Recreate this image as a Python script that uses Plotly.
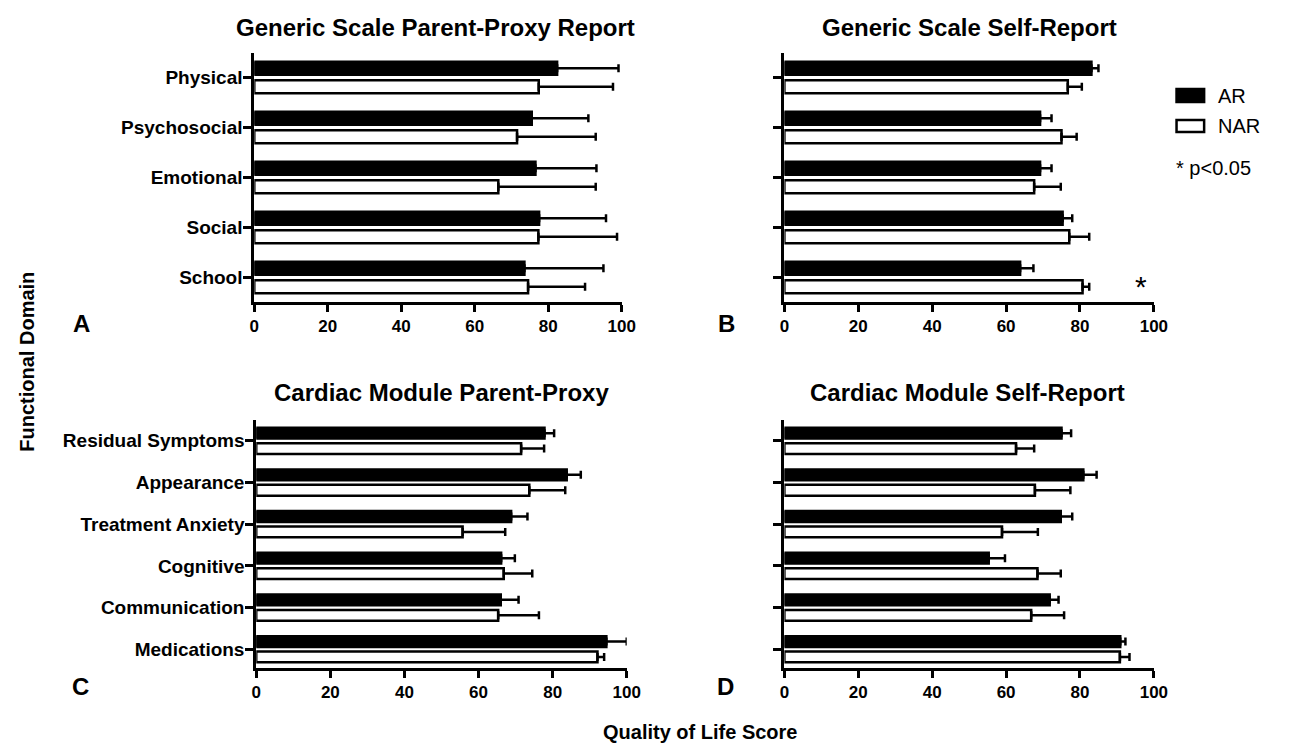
import plotly.graph_objects as go

# ---------------- data ----------------
cats_generic = ["Physical", "Psychosocial", "Emotional", "Social", "School"]
cats_cardiac = ["Residual Symptoms", "Appearance", "Treatment Anxiety",
                "Cognitive", "Communication", "Medications"]
x_ticks = [0, 20, 40, 60, 80, 100]

# Panel A: Generic Scale Parent-Proxy Report
A_AR = [82.4, 75.5, 76.5, 77.5, 73.5]
A_AR_err = [16.7, 15.4, 16.6, 18.2, 21.5]
A_NAR = [77.4, 71.5, 66.4, 77.3, 74.5]
A_NAR_err = [20.2, 21.4, 26.5, 21.4, 15.5]

# Panel B: Generic Scale Self-Report
B_AR = [83.1, 69.2, 69.2, 75.3, 63.8]
B_AR_err = [1.9, 3.1, 3.1, 2.6, 3.6]
B_NAR = [76.7, 75.0, 67.6, 77.1, 80.7]
B_NAR_err = [3.8, 4.1, 7.2, 5.4, 1.8]

# Panel C: Cardiac Module Parent-Proxy
C_AR = [77.8, 83.8, 68.8, 66.1, 66.0, 94.5]
C_AR_err = [2.6, 3.8, 4.4, 3.7, 4.8, 5.5]
C_NAR = [71.5, 73.7, 55.7, 66.8, 65.3, 92.1]
C_NAR_err = [6.2, 9.7, 11.5, 7.7, 11.0, 1.8]

# Panel D: Cardiac Module Self-Report
D_AR = [75.0, 80.9, 74.8, 55.3, 71.8, 90.9]
D_AR_err = [2.6, 3.6, 3.1, 4.4, 2.4, 1.4]
D_NAR = [62.7, 67.8, 58.9, 68.5, 66.8, 90.8]
D_NAR_err = [4.9, 9.6, 9.7, 6.3, 8.9, 2.6]

titles = ["Generic Scale Parent-Proxy Report", "Generic Scale Self-Report",
          "Cardiac Module Parent-Proxy", "Cardiac Module Self-Report"]
panel_letters = ["A", "B", "C", "D"]
groups = ["AR", "NAR"]
sig_marker = "*"
sig_note = "* p<0.05"

# ---------------- figure ----------------
W, H = 1294, 743
FONT = "Liberation Sans, Arial, Helvetica, sans-serif"

def px_x(p):
    return p / W

def px_y(p):
    return 1 - p / H

fig = go.Figure()

panels = [
    ("x", "y", cats_generic, A_AR, A_AR_err, A_NAR, A_NAR_err),
    ("x2", "y2", cats_generic, B_AR, B_AR_err, B_NAR, B_NAR_err),
    ("x3", "y3", cats_cardiac, C_AR, C_AR_err, C_NAR, C_NAR_err),
    ("x4", "y4", cats_cardiac, D_AR, D_AR_err, D_NAR, D_NAR_err),
]

for xa, ya, cats, ar, ar_e, nar, nar_e in panels:
    for name, vals, errs, fill in [("AR", ar, ar_e, "black"), ("NAR", nar, nar_e, "white")]:
        fig.add_trace(go.Bar(
            y=cats, x=vals, orientation="h", name=name,
            marker=dict(color=fill, line=dict(color="black", width=2.5)),
            error_x=dict(type="data", array=errs, arrayminus=[0] * len(errs),
                         symmetric=False, color="black", thickness=2.5, width=4),
            xaxis=xa, yaxis=ya, showlegend=False, hoverinfo="x+y+name",
        ))

axis_common = dict(showgrid=False, zeroline=False, showline=True, linecolor="black",
                   linewidth=3, ticks="outside", tickcolor="black", tickwidth=2.5,
                   fixedrange=True)

domains = {
    "A": ([253, 626], [53, 302]),
    "B": ([791, 1166], [53, 302]),
    "C": ([255, 631], [420, 668]),
    "D": ([791, 1166], [420, 668]),
}

layout_axes = {}
for i, key in enumerate(["A", "B", "C", "D"]):
    (x0, x1), (y0, y1) = domains[key]
    suffix = "" if i == 0 else str(i + 1)
    cats = cats_generic if i < 2 else cats_cardiac
    yrange = [4.49, -0.49] if i < 2 else [5.45, -0.5]
    layout_axes["xaxis" + suffix] = dict(
        axis_common, domain=[px_x(x0), px_x(x1)], range=[0, 100],
        tickvals=x_ticks, ticklen=7,
        tickfont=dict(family=FONT, size=17, color="black", weight="bold"),
        anchor="y" + suffix,
    )
    layout_axes["yaxis" + suffix] = dict(
        axis_common, domain=[px_y(y1), px_y(y0)], type="category",
        categoryorder="array", categoryarray=cats, range=yrange, ticklen=8,
        ticklabelstandoff=-3,
        showticklabels=(key in ("A", "C")),
        tickfont=dict(family=FONT, size=19, color="black", weight="bold"),
        anchor="x" + suffix,
    )

annotations = []
# panel titles
title_pos = [(437, 28), (979, 28), (443, 392), (977, 392)]
for t, (cx, cy) in zip(titles, title_pos):
    annotations.append(dict(text="<b>%s</b>" % t, x=px_x(cx), y=px_y(cy), xref="paper", yref="paper",
                            xanchor="center", yanchor="middle", showarrow=False,
                            font=dict(family=FONT, size=24, color="black")))
# panel letters
letter_pos = [(78, 323), (732, 323), (77, 686), (731, 686)]
for t, (cx, cy) in zip(panel_letters, letter_pos):
    annotations.append(dict(text="<b>%s</b>" % t, x=px_x(cx), y=px_y(cy), xref="paper", yref="paper",
                            xanchor="center", yanchor="middle", showarrow=False,
                            font=dict(family=FONT, size=24, color="black")))
# axis titles
annotations.append(dict(text="<b>Functional Domain</b>", x=px_x(22), y=px_y(362), xref="paper",
                        yref="paper", xanchor="center", yanchor="middle", textangle=-90,
                        showarrow=False, font=dict(family=FONT, size=20, color="black")))
annotations.append(dict(text="<b>Quality of Life Score</b>", x=px_x(705), y=px_y(732), xref="paper",
                        yref="paper", xanchor="center", yanchor="middle",
                        showarrow=False, font=dict(family=FONT, size=20, color="black")))
# significance marker in panel B (School, NAR)
annotations.append(dict(text=sig_marker, x=96.6, y=cats_generic[4], xref="x2", yref="y2",
                        xanchor="center", yanchor="middle", yshift=-9, showarrow=False,
                        font=dict(family=FONT, size=30, color="black")))
# legend texts
annotations.append(dict(text=groups[0], x=px_x(1229), y=px_y(96), xref="paper", yref="paper",
                        xanchor="left", yanchor="middle", showarrow=False,
                        font=dict(family=FONT, size=20, color="black")))
annotations.append(dict(text=groups[1], x=px_x(1229), y=px_y(126), xref="paper", yref="paper",
                        xanchor="left", yanchor="middle", showarrow=False,
                        font=dict(family=FONT, size=20, color="black")))
annotations.append(dict(text=sig_note, x=px_x(1186), y=px_y(168), xref="paper", yref="paper",
                        xanchor="left", yanchor="middle", showarrow=False,
                        font=dict(family=FONT, size=20, color="black")))

shapes = [
    dict(type="rect", xref="paper", yref="paper", x0=px_x(1189), x1=px_x(1217),
         y0=px_y(102), y1=px_y(89), fillcolor="black", line=dict(color="black", width=2.5)),
    dict(type="rect", xref="paper", yref="paper", x0=px_x(1189), x1=px_x(1217),
         y0=px_y(132), y1=px_y(120), fillcolor="white", line=dict(color="black", width=2.5)),
]

fig.update_layout(
    width=W, height=H, margin=dict(l=0, r=0, t=0, b=0),
    paper_bgcolor="white", plot_bgcolor="white",
    barmode="group", bargap=0.26, bargroupgap=0.3,
    font=dict(family=FONT, color="black"),
    annotations=annotations, shapes=shapes, showlegend=False,
    **layout_axes,
)

fig.write_html("out.html", config={"displayModeBar": False},
               post_script="document.body.style.margin='0';document.body.style.overflow='hidden';")
